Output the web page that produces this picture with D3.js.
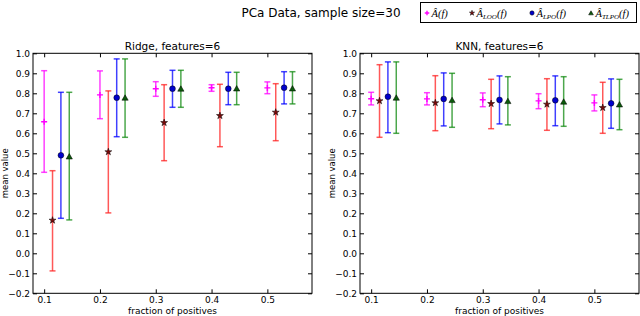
<!DOCTYPE html>
<html>
<head>
<meta charset="utf-8">
<script src="https://cdn.jsdelivr.net/npm/d3@7"></script>
<style>
  body { margin: 0; background: #fff; }
  svg { display: block; font-family: "DejaVu Sans", sans-serif; }
</style>
</head>
<body>
<svg id="chart" width="640" height="316"></svg>
<script>
// fraction of positives (x categories)
const fractions = [0.1, 0.2, 0.3, 0.4, 0.5]
const yTicks = [-0.2, -0.1, 0.0, 0.1, 0.2, 0.3, 0.4, 0.5, 0.6, 0.7, 0.8, 0.9, 1.0]

// Ridge panel: mean, low, high per estimator
const ridgeA = [0.658, 0.792, 0.823, 0.828, 0.827]
const ridgeALow = [0.405, 0.673, 0.785, 0.810, 0.798]
const ridgeAHigh = [0.913, 0.912, 0.858, 0.843, 0.857]
const ridgeLOO = [0.165, 0.507, 0.653, 0.688, 0.705]
const ridgeLOOLow = [-0.088, 0.202, 0.463, 0.533, 0.563]
const ridgeLOOHigh = [0.413, 0.812, 0.843, 0.845, 0.848]
const ridgeLPO = [0.490, 0.778, 0.823, 0.823, 0.828]
const ridgeLPOLow = [0.175, 0.583, 0.730, 0.743, 0.747]
const ridgeLPOHigh = [0.805, 0.972, 0.915, 0.905, 0.908]
const ridgeTLPO = [0.483, 0.777, 0.822, 0.823, 0.823]
const ridgeTLPOLow = [0.167, 0.580, 0.730, 0.743, 0.747]
const ridgeTLPOHigh = [0.805, 0.972, 0.915, 0.905, 0.908]

// KNN panel
const knnA = [0.773, 0.772, 0.768, 0.762, 0.752]
const knnALow = [0.742, 0.742, 0.733, 0.723, 0.712]
const knnAHigh = [0.805, 0.803, 0.802, 0.798, 0.792]
const knnLOO = [0.762, 0.752, 0.748, 0.745, 0.728]
const knnLOOLow = [0.580, 0.613, 0.623, 0.615, 0.600]
const knnLOOHigh = [0.943, 0.888, 0.870, 0.873, 0.855]
const knnLPO = [0.783, 0.772, 0.767, 0.765, 0.750]
const knnLPOLow = [0.603, 0.637, 0.647, 0.638, 0.625]
const knnLPOHigh = [0.957, 0.902, 0.887, 0.887, 0.872]
const knnTLPO = [0.777, 0.765, 0.760, 0.757, 0.743]
const knnTLPOLow = [0.600, 0.630, 0.642, 0.635, 0.618]
const knnTLPOHigh = [0.957, 0.900, 0.883, 0.883, 0.870]

const seriesOffsets = [0, 0.015, 0.03, 0.045]

// estimator styles
const styles = [
  { sub: '', line: '#ff00ff', marker: 'plus', fill: '#ff00ff' },
  { sub: 'LOO', line: '#ff2020', marker: 'star', fill: '#7a0a0a' },
  { sub: 'LPO', line: '#0000ff', marker: 'circle', fill: '#0000cc' },
  { sub: 'TLPO', line: '#108a10', marker: 'triangle', fill: '#0a5a0a' }
]

const panels = [
  {
    title: 'Ridge, features=6', left: 33,
    series: [
      [ridgeA, ridgeALow, ridgeAHigh],
      [ridgeLOO, ridgeLOOLow, ridgeLOOHigh],
      [ridgeLPO, ridgeLPOLow, ridgeLPOHigh],
      [ridgeTLPO, ridgeTLPOLow, ridgeTLPOHigh]
    ]
  },
  {
    title: 'KNN, features=6', left: 360,
    series: [
      [knnA, knnALow, knnAHigh],
      [knnLOO, knnLOOLow, knnLOOHigh],
      [knnLPO, knnLPOLow, knnLPOHigh],
      [knnTLPO, knnTLPOLow, knnTLPOHigh]
    ]
  }
]

const svg = d3.select('#chart')
const plotW = 279
const plotTop = 53.3
const plotH = 240

function drawMarker(g, type, x, y, fill, scale) {
  const k = scale || 1
  if (type === 'plus') {
    const h = 3 * k
    g.append('path')
      .attr('d', `M${x - h},${y}H${x + h}M${x},${y - h}V${y + h}`)
      .attr('stroke', fill).attr('stroke-width', 1.4)
  } else {
    const sym = { star: d3.symbolStar, circle: d3.symbolCircle, triangle: d3.symbolTriangle }[type]
    const size = { star: 15, circle: 26, triangle: 17 }[type] * k * k
    g.append('path')
      .attr('d', d3.symbol(sym, size)())
      .attr('transform', `translate(${x},${y + (type === 'triangle' ? 0.5 : 0)})`)
      .attr('fill', fill)
      .attr('stroke', '#000')
      .attr('stroke-width', 0.5)
  }
}

panels.forEach(p => {
  const x = d3.scaleLinear().domain([0.08, 0.58]).range([p.left, p.left + plotW])
  const y = d3.scaleLinear().domain([-0.2, 1.0]).range([plotTop + plotH, plotTop])
  const g = svg.append('g')

  // error bars
  p.series.forEach((s, si) => {
    const st = styles[si]
    const [mean, low, high] = s
    fractions.forEach((f, i) => {
      const cx = x(f + seriesOffsets[si])
      const bar = g.append('g')
        .attr('stroke', st.line).attr('stroke-opacity', 0.75).attr('stroke-width', 1.5)
      bar.append('line').attr('x1', cx).attr('x2', cx).attr('y1', y(low[i])).attr('y2', y(high[i]))
      bar.append('line').attr('x1', cx - 3).attr('x2', cx + 3).attr('y1', y(low[i])).attr('y2', y(low[i]))
      bar.append('line').attr('x1', cx - 3).attr('x2', cx + 3).attr('y1', y(high[i])).attr('y2', y(high[i]))
    })
  })
  // markers on top
  p.series.forEach((s, si) => {
    const st = styles[si]
    fractions.forEach((f, i) => {
      drawMarker(g, st.marker, x(f + seriesOffsets[si]), y(s[0][i]), st.fill)
    })
  })

  // axes with inward ticks on all sides
  const fmt = d => d3.format('.1f')(d).replace('-', '\u2212')
  const yAxis = g.append('g').attr('transform', `translate(${p.left},0)`)
    .call(d3.axisLeft(y).tickValues(yTicks).tickFormat(fmt).tickSizeInner(-4).tickSizeOuter(0).tickPadding(3))
  const yAxisR = g.append('g').attr('transform', `translate(${p.left + plotW},0)`)
    .call(d3.axisRight(y).tickValues(yTicks).tickFormat('').tickSizeInner(-4).tickSizeOuter(0))
  const xAxis = g.append('g').attr('transform', `translate(0,${plotTop + plotH})`)
    .call(d3.axisBottom(x).tickValues(fractions).tickFormat(d3.format('.1f')).tickSizeInner(-4).tickSizeOuter(0).tickPadding(3))
  const xAxisT = g.append('g').attr('transform', `translate(0,${plotTop})`)
    .call(d3.axisTop(x).tickValues(fractions).tickFormat('').tickSizeInner(-4).tickSizeOuter(0))
  ;[yAxis, yAxisR, xAxis, xAxisT].forEach(a => {
    a.select('.domain').remove()
    a.selectAll('text').attr('font-size', 9).attr('fill', '#000').attr('font-family', 'DejaVu Sans')
  })

  g.append('rect')
    .attr('x', p.left).attr('y', plotTop).attr('width', plotW).attr('height', plotH)
    .attr('fill', 'none').attr('stroke', '#000').attr('stroke-width', 1)

  g.append('text')
    .attr('x', p.left + plotW / 2).attr('y', plotTop - 3.5)
    .attr('text-anchor', 'middle').attr('font-size', 10.5)
    .text(p.title)

  g.append('text')
    .attr('x', p.left + plotW / 2).attr('y', 313.5)
    .attr('text-anchor', 'middle').attr('font-size', 9)
    .text('fraction of positives')

  g.append('text')
    .attr('transform', `translate(${p.left - 25},${plotTop + plotH / 2}) rotate(-90)`)
    .attr('text-anchor', 'middle').attr('font-size', 8.5)
    .text('mean value')
})

// figure title
svg.append('text')
  .attr('x', 321).attr('y', 17)
  .attr('text-anchor', 'middle').attr('font-size', 12)
  .text('PCa Data, sample size=30')

// legend
const legend = svg.append('g')
legend.append('rect')
  .attr('x', 420.5).attr('y', 2.5).attr('width', 216).attr('height', 20)
  .attr('fill', '#fff').attr('stroke', '#000').attr('stroke-width', 1)
const legendX = [427, 472, 532, 591]
styles.forEach((st, i) => {
  drawMarker(legend, st.marker, legendX[i], 13, st.fill, 0.75)
  const t = legend.append('text')
    .attr('x', legendX[i] + 4.5).attr('y', 16.5)
    .attr('font-family', '"Liberation Serif", serif').attr('font-style', 'italic').attr('font-size', 10.5)
  t.append('tspan').text('\u00c2')
  if (st.sub) t.append('tspan').attr('font-size', 7).attr('dy', 2.5).text(st.sub)
  t.append('tspan').attr('dy', st.sub ? -2.5 : 0).text('(f)')
})
</script>
</body>
</html>
